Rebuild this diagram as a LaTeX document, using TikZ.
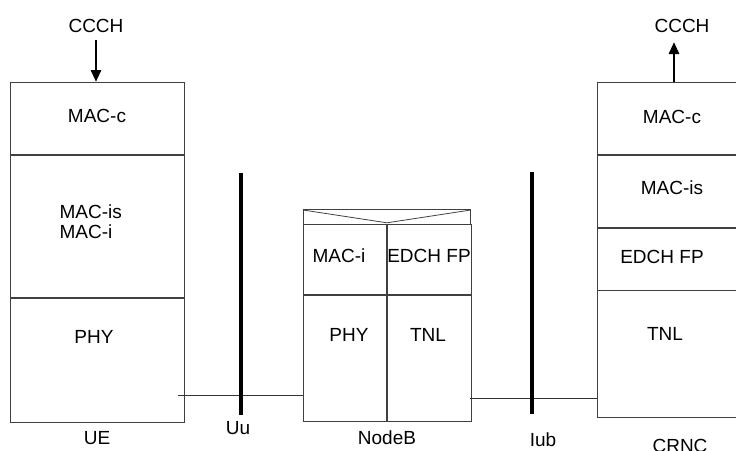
\documentclass[tikz,border=0pt]{standalone}
\usepackage{fontspec}
\setmainfont{Liberation Sans}
\usetikzlibrary{arrows.meta,positioning}

\begin{document}
\begin{tikzpicture}[x=1pt, y=-1pt,
  every node/.style={font=\fontsize{19}{20}\selectfont},
  layer/.style args={#1x#2}{draw=black!75, line width=0.8pt, inner sep=0pt,
    minimum width=#1pt, minimum height=#2pt, anchor=north west},
  bar/.style={line width=4pt},
  link/.style={draw=black!80, line width=0.8pt},
  chan/.style={line width=2.8pt, -{Triangle[length=12pt,width=10pt]}}]
  \clip (0,0) rectangle (736,450);
  % UE stack
  \node[layer=174x72] (uemacc) at (10,82) {};
  \node[layer=174x142, below=0pt of uemacc] (uemaci) {};
  \node[layer=174x124, below=0pt of uemaci] (uephy) {};
  \node (uemaccl) at (97,116) {MAC-c};
  \node[align=left, anchor=west] (uemacil) at (56,222) {MAC-is\\MAC-i};
  \node (uephyl) at (94,337) {PHY};
  \node (uel) at (97,438) {UE};
  \node (ueccch) at (96,26) {CCCH};
  % NodeB stack
  \node[layer=167x15] (nbtop) at (303,209) {};
  \node[layer=83x70] (nbmaci) at (303,224) {};
  \node[layer=84x70, right=0pt of nbmaci] (nbfp) {};
  \node[layer=83x126, below=0pt of nbmaci] (nbphy) {};
  \node[layer=84x126, below=0pt of nbfp] (nbtnl) {};
  \draw[black!75, line width=0.8pt] ([yshift=-1pt]nbtop.north west)
    -- ([yshift=2pt]nbtop.south) -- ([yshift=-1pt]nbtop.north east);
  \node (nbmacil) at (339,256) {MAC-i};
  \node (nbfpl) at (429,256) {EDCH FP};
  \node (nbphyl) at (349,335) {PHY};
  \node (nbtnll) at (428,335) {TNL};
  \node (nbl) at (387,438) {NodeB};
  % CRNC stack
  \node[layer=150x72] (crmacc) at (597,82) {};
  \node[layer=150x72, below=0pt of crmacc] (crmacis) {};
  \node[layer=150x62, below=0pt of crmacis] (crfp) {};
  \node[layer=150x127, below=0pt of crfp] (crtnl) {};
  \node (crmaccl) at (672,117) {MAC-c};
  \node (crmacisl) at (672,188) {MAC-is};
  \node (crfpl) at (662,257) {EDCH FP};
  \node (crtnll) at (665,334) {TNL};
  \node (crl) at (680,446) {CRNC};
  \node (crccch) at (682,26) {CCCH};
  % interfaces
  \coordinate (uutop) at (241,173);
  \coordinate (uubot) at (241,415);
  \coordinate (iubtop) at (532,172);
  \coordinate (iubbot) at (532,414);
  \node (uul) at (238,428) {Uu};
  \node (iubl) at (543,440) {Iub};
  % links
  \coordinate (ueport) at (178,395);
  \coordinate (nbport) at (470,398);
  \draw[link] (ueport) -- (ueport -| nbphy.west);
  \draw[link] (nbport) -- (nbport -| crtnl.west);
  \draw[bar] (uutop) -- (uubot);
  \draw[bar] (iubtop) -- (iubbot);
  % channels
  \coordinate (ueccchin) at (96,40);
  \coordinate (crccchout) at (674,82);
  \draw[chan] (ueccchin) -- (ueccchin |- uemacc.north);
  \draw[chan] (crccchout) -- ([yshift=40pt]crccchout);
\end{tikzpicture}
\end{document}
